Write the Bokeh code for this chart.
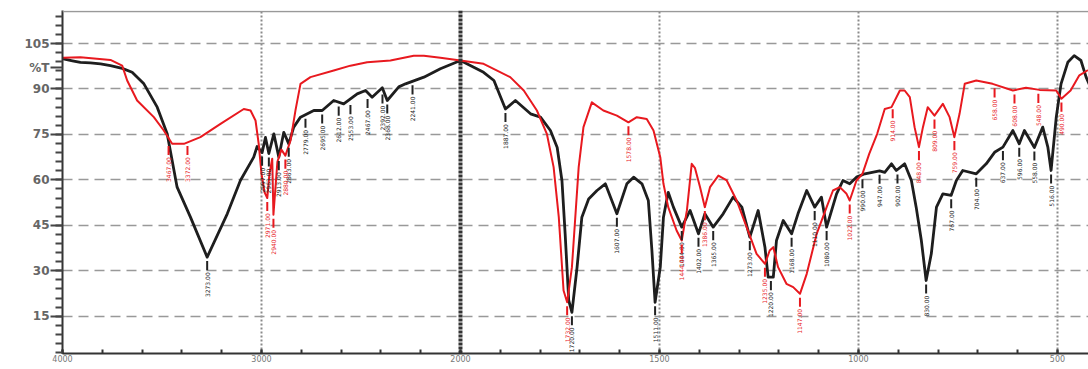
import numpy as np
from bokeh.plotting import figure
from bokeh.models import Range1d, FixedTicker, Span, ColumnDataSource
from bokeh.core.properties import value
from bokeh.embed import file_html
from bokeh.resources import INLINE

# ---- data (wavenumber cm-1, %T) ----
black_wn = [3996, 3950, 3910, 3860, 3809, 3759, 3700, 3650, 3591, 3524, 3474, 3424, 3357, 3273,
            3172, 3106, 3039, 3022, 2997, 2980, 2963, 2938, 2913, 2888, 2863, 2838, 2804, 2737,
            2695, 2637, 2587, 2519, 2477, 2444, 2393, 2368, 2310, 2276, 2184, 2101, 2000,
            1942, 1916, 1887, 1862, 1824, 1799, 1774, 1757, 1745, 1737, 1728, 1720, 1707, 1695,
            1678, 1657, 1636, 1607, 1582, 1565, 1544, 1528, 1519, 1511, 1498, 1490, 1478, 1465,
            1444, 1423, 1402, 1386, 1365, 1340, 1315, 1293, 1273, 1252, 1235, 1227, 1214, 1206,
            1189, 1168, 1152, 1130, 1110, 1093, 1080, 1055, 1039, 1022, 1005, 984, 947, 934, 917,
            905, 884, 867, 855, 842, 830, 817, 804, 788, 767, 754, 738, 704, 679, 658, 637, 612,
            596, 583, 558, 537, 524, 516, 503, 491, 474, 458, 441, 428, 415]
black_t = [99.9, 99.3, 98.8, 98.6, 98.3, 97.7, 96.8, 95.5, 91.7, 84.0, 75.2, 57.6, 47.7, 34.5,
           48.8, 59.8, 67.5, 71.0, 69.0, 74.0, 68.7, 75.2, 67.5, 75.7, 71.9, 77.4, 80.7, 82.9,
           82.9, 86.2, 85.1, 88.4, 89.5, 87.3, 90.4, 86.2, 90.7, 91.7, 93.9, 96.7, 99.4,
           95.5, 92.8, 83.4, 86.2, 81.8, 80.7, 76.3, 70.7, 59.7, 42.2, 20.2, 16.3, 31.2, 47.7,
           53.7, 56.5, 58.7, 48.8, 58.7, 60.9, 58.7, 53.2, 36.7, 19.6, 31.2, 47.7, 55.9, 51.0,
           44.4, 49.9, 42.2, 48.8, 44.4, 48.8, 54.3, 51.0, 41.1, 49.9, 37.8, 27.9, 27.9, 40.0,
           46.6, 42.2, 48.8, 56.5, 51.0, 54.3, 44.4, 55.4, 59.8, 58.7, 60.9, 62.0, 63.0, 62.5, 65.3,
           63.1, 65.3, 59.8, 51.0, 40.0, 26.8, 35.6, 51.0, 55.4, 54.9, 59.8, 63.1, 62.0, 65.3, 69.1, 70.8, 76.3,
           71.9, 76.3, 70.7, 77.4, 70.7, 63.1, 80.7, 91.7, 98.8, 101.0, 99.4, 93.9, 90.0]

red_wn = [3996, 3910, 3759, 3700, 3675, 3625, 3541, 3491, 3449, 3390, 3307, 3206, 3089, 3055,
          3030, 3014, 3000, 2985, 2971, 2960, 2946, 2940, 2920, 2900, 2880, 2854, 2829, 2804,
          2754, 2637, 2553, 2469, 2352, 2235, 2184, 2101, 2000,
          1942, 1875, 1841, 1808, 1783, 1766, 1753, 1741, 1732, 1720, 1703, 1691, 1670, 1641,
          1607, 1578, 1557, 1532, 1515, 1498, 1490, 1478, 1457, 1444, 1431, 1419, 1411, 1398,
          1386, 1373, 1352, 1331, 1306, 1281, 1256, 1235, 1223, 1214, 1202, 1181, 1164, 1147,
          1130, 1105, 1080, 1064, 1047, 1030, 1022, 1005, 990, 973, 953, 934, 917, 896, 884,
          871, 859, 848, 838, 826, 809, 788, 771, 759, 746, 733, 704, 663, 612, 579, 545, 503,
          490, 467, 445, 425]
red_t = [100.3, 100.5, 99.6, 97.7, 92.8, 86.2, 80.7, 76.3, 71.9, 71.9, 74.1, 78.5, 83.4, 82.9,
         79.6, 71.9, 62.0, 56.0, 54.0, 62.0, 67.0, 48.5, 66.0, 70.0, 68.0, 73.0, 83.0, 91.7,
         93.9, 96.1, 97.7, 98.8, 99.4, 101.0, 101.0, 100.3, 99.4,
         98.3, 93.9, 89.5, 82.9, 75.2, 64.2, 47.7, 23.5, 19.6, 31.2, 64.2, 77.4, 85.6, 82.9,
         81.2, 79.0, 80.7, 80.1, 76.3, 67.5, 58.7, 51.0, 43.3, 40.0, 50.0, 65.3, 64.0, 57.6,
         51.0, 57.6, 61.4, 59.8, 53.2, 44.4, 35.6, 32.3, 36.7, 37.8, 31.2, 25.7, 24.6, 22.4,
         29.0, 42.2, 51.0, 56.5, 57.6, 55.4, 53.2, 59.8, 62.0, 68.6, 75.2, 83.4, 84.0, 89.5, 89.5,
         87.3, 77.4, 70.8, 77.4, 84.0, 81.2, 85.1, 80.7, 74.1, 81.8, 91.7, 92.8, 91.7, 89.5, 90.4, 89.7, 89.5,
         86.8, 89.5, 94.5, 96.1]

black_peak_wn = [3273, 2997, 2963, 2913, 2863, 2779, 2695, 2612, 2553, 2467, 2392, 2368, 2241,
                 1887, 1720, 1607, 1511, 1444, 1402, 1365, 1273, 1220, 1168, 1110, 1080, 990,
                 947, 902, 830, 767, 704, 637, 596, 558, 516]
black_peak_t = [34.5, 69.0, 68.7, 67.5, 71.9, 81.5, 82.9, 85.5, 86.0, 88.0, 89.5, 86.2, 92.5,
                83.4, 16.3, 48.8, 19.6, 44.4, 42.2, 44.4, 41.1, 27.9, 42.2, 51.0, 44.4, 61.5,
                63.0, 63.1, 26.8, 54.9, 62.0, 70.8, 71.9, 70.7, 63.1]
red_peak_wn = [3467, 3372, 2971, 2940, 2880, 1732, 1578, 1444, 1386, 1235, 1147, 1022, 914,
               848, 809, 759, 658, 608, 548, 490]
red_peak_t = [72.5, 72.5, 54.0, 48.5, 68.0, 19.6, 79.0, 40.0, 51.0, 32.3, 22.4, 53.2, 84.6,
              70.8, 81.2, 74.1, 91.5, 89.5, 89.7, 86.8]

x_tick_wn = [4000, 3000, 2000, 1500, 1000, 500]
x_grid_wn = [3000, 1500, 1000, 500]
y_ticks = [15, 30, 45, 60, 75, 90, 105]
y_unit_label = "%T"
y_unit_pos = 97


def to_u(wn):
    """Instrument x scale: 4000-2000 compressed, 2000-400 expanded x2."""
    wn = np.asarray(wn, dtype=float)
    return np.where(wn >= 2000, (4000 - wn) / 10.0, 200 + (2000 - wn) / 5.0)


p = figure(width=1088, height=369, output_backend="svg", toolbar_location=None,
           x_range=Range1d(0, 515.6), y_range=Range1d(2.7, 115.9),
           min_border_left=62, min_border_right=0, min_border_top=10, min_border_bottom=16,
           background_fill_color="white", border_fill_color="white")
p.outline_line_color = None

# axes
p.xaxis.ticker = FixedTicker(ticks=[int(u) for u in to_u(x_tick_wn)],
                             minor_ticks=list(range(0, 520, 20)))
p.xaxis.major_label_overrides = {int(u): str(w) for u, w in zip(to_u(x_tick_wn), x_tick_wn)}
p.xaxis.major_tick_in = 4
p.xaxis.major_tick_out = 0
p.xaxis.minor_tick_in = 4
p.xaxis.minor_tick_out = 0
p.xaxis.major_label_standoff = 1
p.xaxis.major_label_text_font_size = "8px"
p.xaxis.major_label_text_color = "#777777"
p.xaxis.major_label_text_font = "DejaVu Sans"
p.xaxis.axis_line_color = "#333333"
p.xaxis.axis_line_width = 2
p.xaxis.major_tick_line_color = "#333333"
p.xaxis.minor_tick_line_color = "#333333"
p.xaxis.major_tick_line_width = 2
p.xaxis.minor_tick_line_width = 2

p.yaxis.ticker = FixedTicker(ticks=sorted(y_ticks + [y_unit_pos]),
                             minor_ticks=list(range(3, 116, 3)))
p.yaxis.major_label_overrides = {y_unit_pos: y_unit_label}
p.yaxis.major_tick_out = 12
p.yaxis.major_tick_in = 0
p.yaxis.minor_tick_out = 7
p.yaxis.minor_tick_in = 0
p.yaxis.major_label_standoff = 1
p.yaxis.major_label_text_font_size = "12px"
p.yaxis.major_label_text_font_style = "bold"
p.yaxis.major_label_text_color = "#666666"
p.yaxis.major_label_text_font = "DejaVu Sans"
p.yaxis.axis_line_color = "#333333"
p.yaxis.axis_line_width = 2
p.yaxis.major_tick_line_color = "#444444"
p.yaxis.minor_tick_line_color = "#444444"
p.yaxis.major_tick_line_width = 2
p.yaxis.minor_tick_line_width = 2

# grids
p.ygrid.ticker = FixedTicker(ticks=y_ticks)
p.ygrid.grid_line_color = "#999999"
p.ygrid.grid_line_dash = "10 6"
p.ygrid.grid_line_width = 1.5
p.xgrid.ticker = FixedTicker(ticks=[int(u) for u in to_u(x_grid_wn)])
p.xgrid.grid_line_color = "#8a8a8a"
p.xgrid.grid_line_dash = "2 2"
p.xgrid.grid_line_width = 2

# top border and 2000 scale-change line
p.add_layout(Span(location=115.6, dimension="width", line_color="#999999", line_width=1.5))
p.add_layout(Span(location=float(to_u([2000])[0]), dimension="height",
                  line_color="#333333", line_width=4, line_dash="3 1"))

# spectra
p.line(to_u(black_wn), black_t, line_color="#1e1e1e", line_width=2.8, line_join="round",
       line_cap="round")
p.line(to_u(red_wn), red_t, line_color="#e8191f", line_width=2.0, line_join="round",
       line_cap="round")

# peak annotations
for pw, pt, col in [(black_peak_wn, black_peak_t, "#222222"), (red_peak_wn, red_peak_t, "#e8191f")]:
    pt = np.asarray(pt, dtype=float)
    src = ColumnDataSource(dict(u=to_u(pw), t0=pt - 1.3, t1=pt - 4.3, ty=pt - 5.0,
                                label=[f"{w:.2f}" for w in pw]))
    p.segment(x0="u", y0="t0", x1="u", y1="t1", source=src, line_color=col, line_width=2)
    p.text(x="u", y="ty", text="label", source=src, angle=np.pi / 2, text_align="right",
           text_baseline="middle", text_font_size="6px", text_color=col,
           text_font=value("DejaVu Sans"))

open("out.html", "w").write(file_html(p, INLINE))
